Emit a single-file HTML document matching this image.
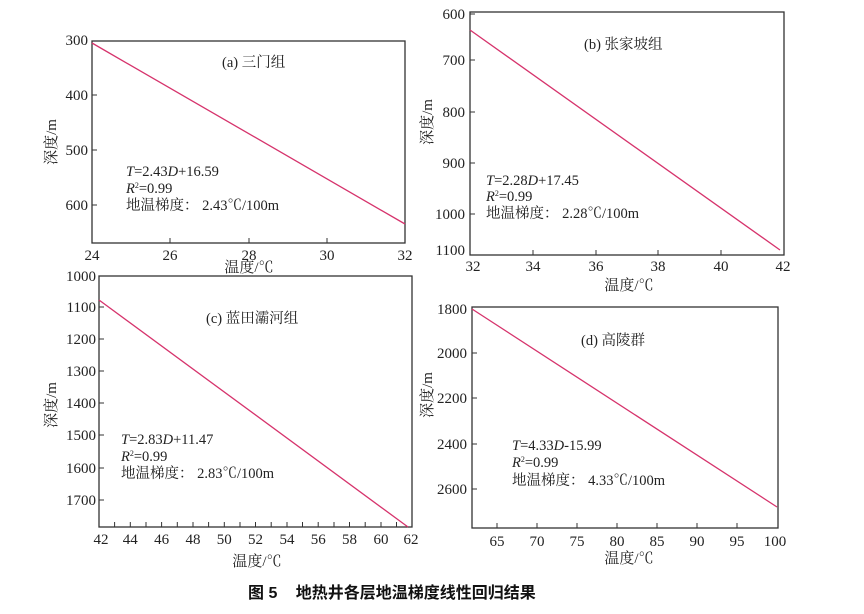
<!DOCTYPE html>
<html><head><meta charset="utf-8"><style>
html,body{margin:0;padding:0;background:#fff;width:864px;height:614px;overflow:hidden}
svg{display:block}
text{font-family:"Liberation Serif","Noto Serif CJK SC",serif;fill:#222}
.t{font-size:15px}
.l{font-size:15px}
.a{font-size:14.5px}
</style></head><body>
<svg width="864" height="614" viewBox="0 0 864 614">
<g stroke="#333" stroke-width="1.3" fill="none">
<rect x="92" y="41" width="313" height="202"/>
<rect x="470" y="12" width="314" height="243"/>
<rect x="99" y="276" width="313" height="251"/>
<rect x="472" y="307" width="306" height="221"/>
</g>
<g stroke="#333" stroke-width="1">
<path d="M92,41h5M92,95h5M92,150h5M92,205h5M170,243v-5M249,243v-5M327,243v-5"/>
<path d="M470,14h5M470,60h5M470,112h5M470,163h5M470,214h5M533,255v-5M596,255v-5M658,255v-5M721,255v-5"/>
<path d="M99,307h5M99,339h5M99,371h5M99,403h5M99,435h5M99,468h5M99,500h5
M114.6,527v-5M130.3,527v-5M146,527v-5M161.6,527v-5M177.3,527v-5M193,527v-5M208.6,527v-5M224.3,527v-5M240,527v-5M255.5,527v-5M271.2,527v-5M287,527v-5M302.5,527v-5M318.2,527v-5M334,527v-5M349.5,527v-5M365.2,527v-5M381,527v-5M396.5,527v-5"/>
<path d="M472,353h5M472,398h5M472,444h5M472,489h5M497,528v-5M537,528v-5M577,528v-5M617,528v-5M657,528v-5M697,528v-5M737,528v-5"/>
</g>
<g stroke="#d6336c" stroke-width="1.3">
<line x1="92" y1="43" x2="405" y2="224"/>
<line x1="470" y1="30" x2="780" y2="250"/>
<line x1="99" y1="300" x2="408" y2="527"/>
<line x1="472" y1="309" x2="777" y2="507"/>
</g>
<g class="t" text-anchor="end">
<text x="88" y="45">300</text><text x="88" y="100">400</text><text x="88" y="155">500</text><text x="88" y="210">600</text>
</g>
<g class="t" text-anchor="middle">
<text x="92" y="260">24</text><text x="170" y="260">26</text><text x="249" y="260">28</text><text x="327" y="260">30</text><text x="405" y="260">32</text>
</g>
<text class="l" x="249" y="272" text-anchor="middle">温度/℃</text>
<text class="l" transform="translate(56,142) rotate(-90)" text-anchor="middle">深度/m</text>
<text class="a" x="222" y="67">(a) 三门组</text>
<text class="a" x="126" y="176"><tspan font-style="italic">T</tspan>=2.43<tspan font-style="italic">D</tspan>+16.59</text>
<text class="a" x="126" y="193"><tspan font-style="italic">R</tspan><tspan font-size="8" dy="-5">2</tspan><tspan dy="5">=0.99</tspan></text>
<text class="a" x="126" y="210">地温梯度：  2.43℃/100m</text>
<g class="t" text-anchor="end">
<text x="465" y="19">600</text><text x="465" y="65">700</text><text x="465" y="117">800</text><text x="465" y="168">900</text><text x="465" y="219">1000</text><text x="465" y="255">1100</text>
</g>
<g class="t" text-anchor="middle">
<text x="473" y="271">32</text><text x="533" y="271">34</text><text x="596" y="271">36</text><text x="658" y="271">38</text><text x="721" y="271">40</text><text x="783" y="271">42</text>
</g>
<text class="l" x="629" y="290" text-anchor="middle">温度/℃</text>
<text class="l" transform="translate(432,122) rotate(-90)" text-anchor="middle">深度/m</text>
<text class="a" x="584" y="49">(b) 张家坡组</text>
<text class="a" x="486" y="185"><tspan font-style="italic">T</tspan>=2.28<tspan font-style="italic">D</tspan>+17.45</text>
<text class="a" x="486" y="201"><tspan font-style="italic">R</tspan><tspan font-size="8" dy="-5">2</tspan><tspan dy="5">=0.99</tspan></text>
<text class="a" x="486" y="218">地温梯度：  2.28℃/100m</text>
<g class="t" text-anchor="end">
<text x="96" y="281">1000</text><text x="96" y="312">1100</text><text x="96" y="344">1200</text><text x="96" y="376">1300</text><text x="96" y="408">1400</text><text x="96" y="440">1500</text><text x="96" y="473">1600</text><text x="96" y="505">1700</text>
</g>
<g class="t" text-anchor="middle">
<text x="101" y="544">42</text><text x="130.3" y="544">44</text><text x="161.6" y="544">46</text><text x="193" y="544">48</text><text x="224.3" y="544">50</text><text x="255.5" y="544">52</text><text x="287" y="544">54</text><text x="318.2" y="544">56</text><text x="349.5" y="544">58</text><text x="381" y="544">60</text><text x="411" y="544">62</text>
</g>
<text class="l" x="257" y="566" text-anchor="middle">温度/℃</text>
<text class="l" transform="translate(56,405) rotate(-90)" text-anchor="middle">深度/m</text>
<text class="a" x="206" y="323">(c) 蓝田灞河组</text>
<text class="a" x="121" y="444"><tspan font-style="italic">T</tspan>=2.83<tspan font-style="italic">D</tspan>+11.47</text>
<text class="a" x="121" y="461"><tspan font-style="italic">R</tspan><tspan font-size="8" dy="-5">2</tspan><tspan dy="5">=0.99</tspan></text>
<text class="a" x="121" y="478">地温梯度：  2.83℃/100m</text>
<g class="t" text-anchor="end">
<text x="467" y="314">1800</text><text x="467" y="358">2000</text><text x="467" y="403">2200</text><text x="467" y="449">2400</text><text x="467" y="494">2600</text>
</g>
<g class="t" text-anchor="middle">
<text x="497" y="546">65</text><text x="537" y="546">70</text><text x="577" y="546">75</text><text x="617" y="546">80</text><text x="657" y="546">85</text><text x="697" y="546">90</text><text x="737" y="546">95</text><text x="775" y="546">100</text>
</g>
<text class="l" x="629" y="563" text-anchor="middle">温度/℃</text>
<text class="l" transform="translate(432,395) rotate(-90)" text-anchor="middle">深度/m</text>
<text class="a" x="581" y="345">(d) 高陵群</text>
<text class="a" x="512" y="450"><tspan font-style="italic">T</tspan>=4.33<tspan font-style="italic">D</tspan>-15.99</text>
<text class="a" x="512" y="467"><tspan font-style="italic">R</tspan><tspan font-size="8" dy="-5">2</tspan><tspan dy="5">=0.99</tspan></text>
<text class="a" x="512" y="485">地温梯度：  4.33℃/100m</text>
<text x="248" y="598" style="font-family:'Liberation Sans','Noto Sans CJK SC',sans-serif;font-size:16px;font-weight:bold;fill:#111">图 5 <tspan dx="14">地热井各层地温梯度线性回归结果</tspan></text>
</svg>
</body></html>
